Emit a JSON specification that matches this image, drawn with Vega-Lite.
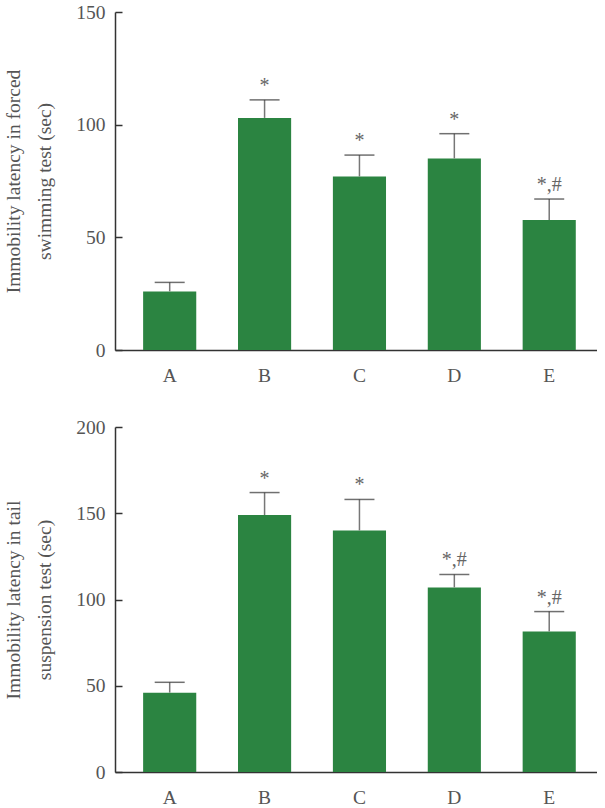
{
  "$schema": "https://vega.github.io/schema/vega-lite/v6.json",
  "padding": {"left": 3, "top": 2, "right": 0, "bottom": 0},
  "background": "white",
  "datasets": {
    "fst": [
      {"group": "A", "mean": 26, "hi": 30, "sig": ""},
      {"group": "B", "mean": 103, "hi": 111, "sig": "*"},
      {"group": "C", "mean": 77, "hi": 86.5, "sig": "*"},
      {"group": "D", "mean": 85, "hi": 96, "sig": "*"},
      {"group": "E", "mean": 57.7, "hi": 67, "sig": "*,#"}
    ],
    "tst": [
      {"group": "A", "mean": 46, "hi": 52, "sig": ""},
      {"group": "B", "mean": 149, "hi": 162, "sig": "*"},
      {"group": "C", "mean": 140, "hi": 158, "sig": "*"},
      {"group": "D", "mean": 107, "hi": 114.5, "sig": "*,#"},
      {"group": "E", "mean": 81.5, "hi": 93, "sig": "*,#"}
    ]
  },
  "config": {
    "view": {"stroke": null},
    "font": "Liberation Serif",
    "concat": {"spacing": 32},
    "axis": {
      "domainColor": "#333333",
      "domainWidth": 1.5,
      "tickColor": "#333333",
      "tickWidth": 1.5,
      "labelColor": "#555555",
      "titleColor": "#555555",
      "labelFont": "Liberation Serif",
      "titleFont": "Liberation Serif",
      "labelFontSize": 19.5,
      "titleFontSize": 19.5,
      "titleFontWeight": "normal",
      "grid": false
    }
  },
  "vconcat": [
    {
      "width": 482,
      "height": 338,
      "data": {"name": "fst"},
      "encoding": {
        "x": {
          "field": "group", "type": "nominal",
          "scale": {"paddingInner": 0.44, "paddingOuter": 0.26, "align": 0.57},
          "axis": {"title": null, "labelAngle": 0, "ticks": false, "labelPadding": 16}
        }
      },
      "layer": [
        {
          "mark": {"type": "bar", "color": "#2b8441"},
          "encoding": {
            "y": {
              "field": "mean", "type": "quantitative",
              "scale": {"domain": [0, 150], "nice": false},
              "axis": {
                "values": [0, 50, 100, 150],
                "tickSize": -7,
                "labelPadding": 17,
                "title": ["Immobility latency in forced", "swimming test (sec)"],
                "titleLineHeight": 31,
                "titlePadding": 21
              }
            }
          }
        },
        {
          "mark": {"type": "rule", "color": "#777777", "strokeWidth": 1.5},
          "encoding": {"y": {"field": "mean", "type": "quantitative"}, "y2": {"field": "hi"}}
        },
        {
          "mark": {"type": "tick", "color": "#333333", "size": 30, "thickness": 1.5},
          "encoding": {"y": {"field": "hi", "type": "quantitative"}}
        },
        {
          "mark": {"type": "text", "color": "#666666", "fontSize": 20, "baseline": "middle", "dy": -14},
          "encoding": {"y": {"field": "hi", "type": "quantitative"}, "text": {"field": "sig"}}
        }
      ]
    },
    {
      "width": 482,
      "height": 345,
      "data": {"name": "tst"},
      "encoding": {
        "x": {
          "field": "group", "type": "nominal",
          "scale": {"paddingInner": 0.44, "paddingOuter": 0.26, "align": 0.57},
          "axis": {"title": null, "labelAngle": 0, "ticks": false, "labelPadding": 16}
        }
      },
      "layer": [
        {
          "mark": {"type": "bar", "color": "#2b8441"},
          "encoding": {
            "y": {
              "field": "mean", "type": "quantitative",
              "scale": {"domain": [0, 200], "nice": false},
              "axis": {
                "values": [0, 50, 100, 150, 200],
                "tickSize": -7,
                "labelPadding": 17,
                "title": ["Immobility latency in tail", "suspension test (sec)"],
                "titleLineHeight": 31,
                "titlePadding": 21
              }
            }
          }
        },
        {
          "mark": {"type": "rule", "color": "#777777", "strokeWidth": 1.5},
          "encoding": {"y": {"field": "mean", "type": "quantitative"}, "y2": {"field": "hi"}}
        },
        {
          "mark": {"type": "tick", "color": "#333333", "size": 30, "thickness": 1.5},
          "encoding": {"y": {"field": "hi", "type": "quantitative"}}
        },
        {
          "mark": {"type": "text", "color": "#666666", "fontSize": 20, "baseline": "middle", "dy": -14},
          "encoding": {"y": {"field": "hi", "type": "quantitative"}, "text": {"field": "sig"}}
        }
      ]
    }
  ]
}
